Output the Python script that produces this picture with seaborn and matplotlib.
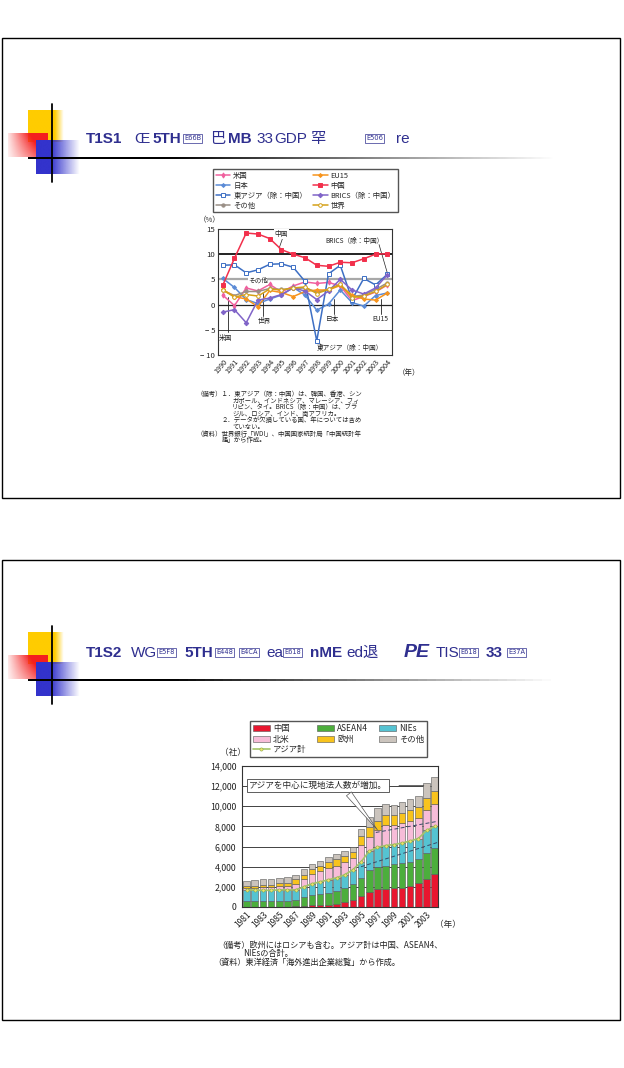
import numpy as np
import seaborn as sns
import matplotlib.pyplot as plt
from matplotlib.patches import Rectangle

#=====================================================
# Data
#=====================================================
# chart 1 : real GDP growth (%)
years1 = list(range(1990, 2005))
gdp_us = [1.9, -0.2, 3.3, 2.7, 4.0, 2.5, 3.7, 4.5, 4.2, 4.4, 3.7, 0.8, 1.6, 2.5, 3.9]
gdp_japan = [5.2, 3.4, 1.0, 0.2, 1.1, 1.9, 3.4, 1.9, -1.1, 0.1, 2.9, 0.4, -0.3, 1.8, 2.3]
gdp_eastasia = [7.8, 7.9, 6.3, 6.9, 8.0, 8.1, 7.4, 4.6, -7.2, 6.1, 7.8, 1.0, 5.2, 3.9, 6.0]
gdp_other = [2.8, 1.8, 2.6, 2.6, 3.2, 3.0, 3.2, 3.3, 2.5, 3.0, 4.0, 1.6, 1.9, 3.0, 4.3]
gdp_eu15 = [3.0, 1.6, 1.1, -0.4, 2.8, 2.4, 1.6, 2.6, 2.9, 2.9, 3.8, 1.9, 1.1, 0.9, 2.3]
gdp_china = [3.8, 9.2, 14.2, 14.0, 13.1, 10.9, 10.0, 9.3, 7.8, 7.6, 8.4, 8.3, 9.1, 10.0, 10.1]
gdp_brics = [-1.5, -1.0, -3.6, 0.9, 1.3, 2.0, 3.3, 2.7, 1.0, 2.7, 5.0, 2.9, 2.1, 3.3, 5.9]
gdp_world = [2.9, 1.5, 2.0, 1.7, 3.1, 2.9, 3.3, 3.5, 2.2, 3.0, 4.0, 1.4, 1.7, 2.6, 4.0]

# chart 2 : number of overseas affiliates (companies)
years2 = list(range(1981, 2005))
n_china = [10, 10, 15, 15, 20, 30, 50, 100, 150, 150, 200, 300, 450, 700, 1130, 1500, 1750, 1800, 1850, 1900, 2100, 2350, 2800, 3300]
n_asean4 = [600, 560, 570, 570, 570, 560, 650, 850, 1000, 1100, 1200, 1300, 1450, 1600, 1700, 2150, 2250, 2300, 2400, 2450, 2350, 2400, 2600, 2550]
n_nies = [1100, 1100, 1070, 1070, 1110, 1110, 1000, 1050, 1150, 1250, 1300, 1300, 1300, 1400, 1650, 1900, 1920, 2000, 1950, 2000, 2100, 2050, 2200, 2150]
n_namerica = [150, 200, 300, 320, 400, 400, 600, 800, 950, 1050, 1150, 1200, 1250, 1200, 1650, 1450, 1720, 2050, 1900, 2000, 1950, 2000, 2050, 2250]
n_europe = [250, 250, 250, 250, 250, 280, 460, 400, 500, 550, 600, 650, 600, 600, 900, 930, 930, 950, 1000, 1000, 1100, 1150, 1150, 1300]
n_other = [500, 520, 540, 540, 560, 570, 430, 550, 490, 500, 500, 500, 500, 500, 760, 1000, 1300, 1100, 1000, 1050, 1100, 1100, 1500, 1400]

#=====================================================
# Figure setup (pixel helpers, 624 x 1068)
#=====================================================
W, H = 624, 1068
sns.set_style('white')
plt.rcParams['font.family'] = ['Noto Sans CJK JP', 'DejaVu Sans']
plt.rcParams['axes.unicode_minus'] = True

fig = plt.figure(figsize=(W / 100, H / 100), dpi=100)

def fx(x):
    return x / W

def fy(y):
    return 1 - y / H

def px_box(x0, y0, x1, y1):
    return [fx(x0), fy(y1), (x1 - x0) / W, (y1 - y0) / H]

bg = fig.add_axes([0, 0, 1, 1], zorder=0)
bg.axis('off')

NAVY = '#2f2f8f'
TITLE_FONT = ['Liberation Sans Narrow', 'Liberation Sans', 'Noto Sans CJK JP', 'DejaVu Sans']

def gradient(rgb, alpha):
    img = np.zeros(alpha.shape + (4,))
    img[..., :3] = rgb
    img[..., 3] = np.clip(alpha, 0, 1)
    return img

t = np.linspace(0, 1, 60)
tx, ty = np.meshgrid(t, t)

def slide(y_off, pieces, base_y):
    # frame
    bg.add_patch(Rectangle((2, 38 + y_off), 618, 460, fill=False, ec='black', lw=1.0))
    # decoration squares
    bg.imshow(gradient((1.0, 0.80, 0.0), (1 - tx) / 0.25), extent=(28, 64, 142 + y_off, 110 + y_off), aspect='auto', zorder=1)
    bg.imshow(gradient((0.96, 0.12, 0.12), (0.1 + 1.3 * tx) * (1.25 - 0.6 * ty)), extent=(8, 48, 157 + y_off, 133 + y_off), aspect='auto', zorder=2)
    bg.imshow(gradient((0.2, 0.2, 0.8), 1.5 - 1.5 * tx), extent=(36, 80, 174 + y_off, 140 + y_off), aspect='auto', zorder=3)
    # lines
    bg.plot([52, 52], [104 + y_off, 182 + y_off], color='black', lw=1.3, zorder=4)
    line = gradient((0.0, 0.0, 0.0), 1.35 - 1.35 * tx[:2])
    bg.imshow(line, extent=(28, 560, 159.2 + y_off, 157.8 + y_off), aspect='auto', zorder=4)
    bg.set_xlim(0, W)
    bg.set_ylim(H, 0)
    # title (garbled as in the source slide)
    for x, txt, kind in pieces:
        if kind == 'box':
            fig.text(fx(x), fy(base_y - 4.5), txt, fontsize=4.8, color=NAVY, family='DejaVu Sans',
                     va='center', ha='left',
                     bbox=dict(boxstyle='square,pad=0.2', fc='white', ec=NAVY, lw=0.5))
        elif kind == 'big':
            fig.text(fx(x), fy(base_y), txt, fontsize=14, color=NAVY, family=TITLE_FONT,
                     va='baseline', ha='left', weight='bold', style='italic')
        elif kind == 'bold':
            fig.text(fx(x), fy(base_y), txt, fontsize=11, color=NAVY, family=TITLE_FONT,
                     va='baseline', ha='left', weight='bold')
        else:
            fig.text(fx(x), fy(base_y), txt, fontsize=11, color=NAVY, family=TITLE_FONT,
                     va='baseline', ha='left')

title1 = [(86, 'T1S1', 'bold'), (134, 'Œ', 'txt'), (152, '5TH', 'bold'), (184, 'E66B', 'box'),
          (210, '巴', 'txt'), (228, 'MB', 'bold'), (256, '33', 'txt'), (274, 'GDP', 'txt'),
          (310, '罕', 'txt'), (366, 'E506', 'box'), (396, 're', 'txt')]
title2 = [(86, 'T1S2', 'bold'), (131, 'WG', 'txt'), (158, 'E5F8', 'box'), (184, '5TH', 'bold'),
          (216, 'E448', 'box'), (240, 'E4CA', 'box'), (266, 'ea', 'txt'), (284, 'E618', 'box'),
          (310, 'nME', 'bold'), (346, 'ed退', 'txt'), (404, 'PE', 'big'), (436, 'TIS', 'txt'),
          (460, 'E618', 'box'), (486, '33', 'bold'), (508, 'E37A', 'box')]

slide(0, title1, 143)
slide(522, title2, 657)

#=====================================================
# Chart 1 : GDP growth lines
#=====================================================
ax1 = fig.add_axes(px_box(218, 229, 392, 355), zorder=5)
series1 = [
    ('米国', gdp_us, '#f0609e', 'd', '#f0609e', 2.6),
    ('日本', gdp_japan, '#5b8bd6', 'D', '#5b8bd6', 2.0),
    ('東アジア（除：中国）', gdp_eastasia, '#3d6fc4', 's', 'white', 2.8),
    ('その他', gdp_other, '#9a8f86', 'o', '#9a8f86', 2.4),
    ('EU15', gdp_eu15, '#f7941d', 'D', '#f7941d', 2.0),
    ('中国', gdp_china, '#f2304c', 's', '#f2304c', 2.8),
    ('BRICS（除：中国）', gdp_brics, '#8064c8', 'D', '#8064c8', 2.3),
    ('世界', gdp_world, '#d4a017', 'o', 'white', 2.6),
]
for name, vals, col, mk, mfc, ms in series1:
    sns.lineplot(x=years1, y=vals, color=col, marker=mk, mfc=mfc, mec=col, ms=ms,
                 mew=0.7, lw=1.1, label=name, ax=ax1, zorder=3)

ax1.axhline(10, color='#222222', lw=1.4, zorder=1)
ax1.axhline(5, color='#a8a8a8', lw=1.6, zorder=1)
ax1.axhline(0, color='#222222', lw=0.9, zorder=1)
ax1.axhline(-5, color='#222222', lw=0.6, zorder=1)
ax1.set_xlim(1989.6, 2004.4)
ax1.set_ylim(-10, 15)
ax1.set_yticks([-10, -5, 0, 5, 10, 15])
ax1.set_yticklabels(['− 10', '− 5', '0', '5', '10', '15'], fontsize=5.6)
ax1.set_xticks(years1)
ax1.set_xticklabels([str(y) for y in years1], fontsize=5.2, rotation=50, ha='right',
                    rotation_mode='anchor')
ax1.tick_params(axis='both', direction='in', length=2, width=0.6, pad=2, colors='#222222')
ax1.set_xlabel('')
ax1.set_ylabel('')
for sp in ax1.spines.values():
    sp.set_color('#333333')
    sp.set_linewidth(0.8)

h1, l1 = ax1.get_legend_handles_labels()
ax1.legend(h1, l1, ncol=2, loc='upper left', bbox_to_anchor=(fx(213), fy(169)),
           bbox_transform=fig.transFigure, fontsize=5.3, frameon=True, fancybox=False,
           edgecolor='#555555', framealpha=1, borderaxespad=0, borderpad=0.35,
           labelspacing=0.28, handlelength=2.0, handletextpad=0.4, columnspacing=0.8)

ann_kw = dict(fontsize=4.8, color='#222222', zorder=6)
ax1.text(1995.0, 14.0, '中国', ha='center', va='center',
         bbox=dict(boxstyle='square,pad=0.1', fc='white', ec='none'), **ann_kw)
ax1.plot([1995.1, 1994.8], [13.2, 11.2], color='#222222', lw=0.5)
ax1.text(2001.2, 12.6, 'BRICS（除：中国）', ha='center', va='center', **ann_kw)
ax1.plot([2003.3, 2004.0], [11.9, 6.3], color='#222222', lw=0.5)
ax1.text(1993.0, 4.8, 'その他', ha='center', va='center',
         bbox=dict(boxstyle='square,pad=0.05', fc='white', ec='none'), **ann_kw)
ax1.plot([1993.4, 1993.4], [2.4, -2.2], color='#222222', lw=0.6)
ax1.text(1993.5, -3.2, '世界', ha='center', va='center', **ann_kw)
ax1.plot([1990.45, 1990.45], [1.6, -5.4], color='#222222', lw=0.6)
ax1.text(1990.2, -6.6, '米国', ha='center', va='center', **ann_kw)
ax1.plot([1999.5, 1999.5], [1.2, -1.8], color='#222222', lw=0.6)
ax1.text(1999.3, -2.8, '日本', ha='center', va='center', **ann_kw)
ax1.plot([2003.5, 2003.5], [1.2, -1.8], color='#222222', lw=0.6)
ax1.text(2003.4, -2.8, 'EU15', ha='center', va='center', **ann_kw)
ax1.plot([1998.0, 1998.5], [-7.3, -8.2], color='#222222', lw=0.5)
ax1.text(2000.8, -8.6, '東アジア（除：中国）', ha='center', va='center', **ann_kw)

fig.text(fx(210), fy(220), '（%）', fontsize=5.4, ha='center', va='center')
fig.text(fx(409), fy(373), '（年）', fontsize=5.4, ha='center', va='center')

notes1 = [
    (197, '（備考）１．東アジア（除：中国）は、韓国、香港、シン'),
    (232, 'ガポール、インドネシア、マレーシア、フィ'),
    (232, 'リピン、タイ。BRICS（除：中国）は、ブラ'),
    (232, 'ジル、ロシア、インド、南アフリカ。'),
    (222, '２．データが欠損している国、年については含め'),
    (232, 'ていない。'),
    (197, '（資料）世界銀行「WDI」、中国国家統計局「中国統計年'),
    (222, '鑑」から作成。'),
]
for i, (x, line) in enumerate(notes1):
    fig.text(fx(x), fy(394 + 6.6 * i), line, fontsize=4.6, ha='left', va='center', color='#222222')

#=====================================================
# Chart 2 : stacked bars of affiliates
#=====================================================
ax2 = fig.add_axes(px_box(242, 766, 438, 907), zorder=5)
layers = [
    ('中国', n_china, '#e8162f'),
    ('ASEAN4', n_asean4, '#4cae3c'),
    ('NIEs', n_nies, '#55c3d2'),
    ('北米', n_namerica, '#f7bcd8'),
    ('欧州', n_europe, '#f8c31d'),
    ('その他', n_other, '#cbc4bd'),
]
bottom = np.zeros(len(years2))
for name, vals, col in layers:
    sns.barplot(x=years2, y=vals, bottom=bottom.copy(), color=col, native_scale=True,
                saturation=1, edgecolor='#555555', linewidth=0.4, errorbar=None,
                label=name, ax=ax2, zorder=2)
    bottom += np.array(vals)

asia_total = np.array(n_china) + np.array(n_asean4) + np.array(n_nies)
sns.lineplot(x=years2, y=asia_total, color='#a3c46a', lw=1.2, marker='o', ms=2.3,
             mfc='#ece46c', mec='#8aa84a', mew=0.4, label='アジア計', ax=ax2, zorder=4)

# trend guides inside the bars
ax2.plot([1995.0, 2004.3], [4000, 6400], color='#3a4a6a', lw=0.7, ls=(0, (4, 2.5)), zorder=5)
ax2.plot([1996.8, 2004.3], [7400, 8500], color='#3a4a6a', lw=0.7, ls=(0, (4, 2.5)), zorder=5)

ax2.set_xlim(1980.45, 2004.4)
ax2.set_ylim(0, 14000)
ax2.set_yticks(range(0, 14001, 2000))
ax2.set_yticklabels([f'{v:,}' for v in range(0, 14001, 2000)], fontsize=6.3)
ax2.set_xticks(years2[::2])
ax2.set_xticklabels([str(y) for y in years2[::2]], fontsize=6.0, rotation=45, ha='right',
                    rotation_mode='anchor')
ax2.tick_params(axis='y', direction='out', length=2.5, width=0.6, pad=1.5, colors='#222222')
ax2.tick_params(axis='x', direction='out', length=0, pad=2, colors='#222222')
ax2.yaxis.grid(True, color='#222222', lw=0.6)
ax2.set_axisbelow(True)
ax2.set_xlabel('')
ax2.set_ylabel('')
for sp in ax2.spines.values():
    sp.set_color('#333333')
    sp.set_linewidth(0.8)

h2, l2 = ax2.get_legend_handles_labels()
hmap = dict(zip(l2, h2))
order2 = ['中国', '北米', 'アジア計', 'ASEAN4', '欧州', 'NIEs', 'その他']
ax2.legend([hmap[k] for k in order2], order2, ncol=3, loc='upper left',
           bbox_to_anchor=(fx(250), fy(721)), bbox_transform=fig.transFigure,
           fontsize=6.0, frameon=True, fancybox=False, edgecolor='#555555', framealpha=1,
           borderaxespad=0, borderpad=0.35, labelspacing=0.2, handlelength=2.0,
           handleheight=0.8, handletextpad=0.4, columnspacing=1.3)

ax2.text(0.035, 0.862, 'アジアを中心に現地法人数が増加。', transform=ax2.transAxes, fontsize=6.2,
         va='center', ha='left', zorder=7,
         bbox=dict(boxstyle='square,pad=0.25', fc='white', ec='#444444', lw=0.6))
ax2.annotate('', xy=(1997.2, 7450), xytext=(1993.3, 11450),
             arrowprops=dict(arrowstyle='wedge,tail_width=0.45', fc='white', ec='#555555',
                             lw=0.5, mutation_scale=10), zorder=7)
ax2.annotate('', xy=(2003.0, 12050), xytext=(1999.3, 12050),
             arrowprops=dict(arrowstyle='-', color='#444444', lw=0.6), zorder=7)

fig.text(fx(233), fy(753), '（社）', fontsize=6.2, ha='center', va='center')
fig.text(fx(448), fy(925), '（年）', fontsize=6.2, ha='center', va='center')

notes2 = [
    (217, fy(945), '（備考）欧州にはロシアも含む。アジア計は中国、ASEAN4、'),
    (243, fy(953.5), 'NIEsの合計。'),
    (213, fy(962), '（資料）東洋経済「海外進出企業総覧」から作成。'),
]
for x, y, line in notes2:
    fig.text(fx(x), y, line, fontsize=5.9, ha='left', va='center', color='#222222')

fig.savefig('out.png', dpi=100)
